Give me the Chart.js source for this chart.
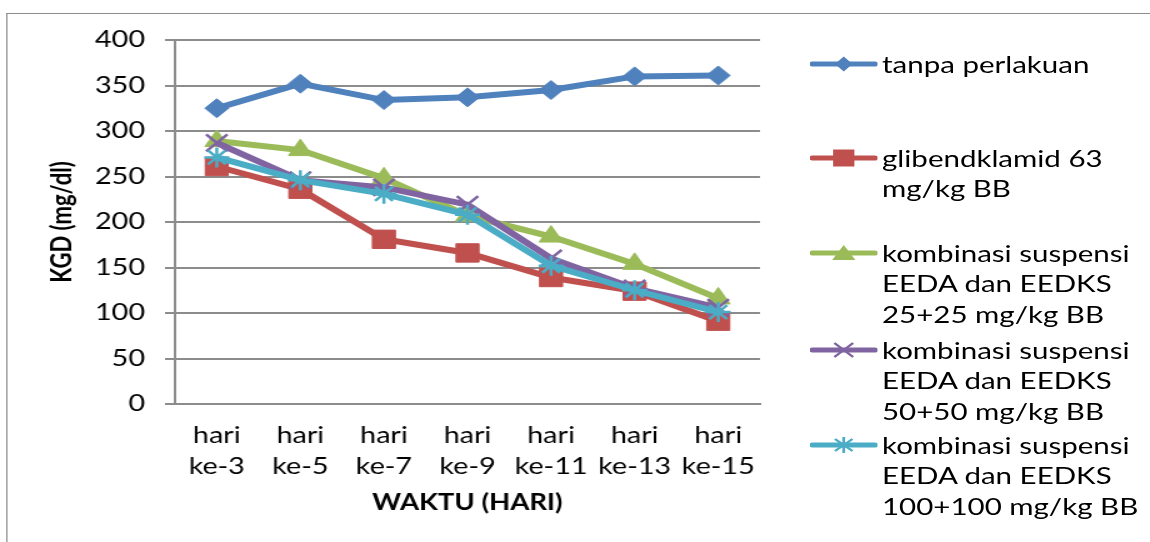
<!DOCTYPE html>
<html><head><meta charset="utf-8">
<script src="https://cdn.jsdelivr.net/npm/chart.js@4.4.1/dist/chart.umd.min.js"></script>
<style>
html,body{margin:0;padding:0;background:#fff;overflow:hidden;width:1150px;height:542px}
#wrap{position:absolute;left:0;top:0;width:920px;height:542px;transform:scaleX(1.25);transform-origin:0 0}
#frame{position:absolute;left:4.6px;top:13px;width:2000px;height:2000px;border-left:1.2px solid #8c8c8c;border-top:1.5px solid #8c8c8c}
#c{position:absolute;left:0;top:0}
.lg-mark{position:absolute;left:648px;width:54px;height:24px}
.lg-text{position:absolute;left:705.6px;font-family:Lato,sans-serif;font-size:23.6px;line-height:30.5px;color:#000;white-space:nowrap}
</style></head>
<body>
<div id="wrap">
  <div id="frame"></div>
  <canvas id="c" width="920" height="542"></canvas>
  <div id="legend"></div>
</div>
<script>
// ---- data ----
const categoryLabels = [["hari","ke-3"],["hari","ke-5"],["hari","ke-7"],["hari","ke-9"],["hari","ke-11"],["hari","ke-13"],["hari","ke-15"]];
const tanpaPerlakuan = [325, 352, 334, 337, 345, 360, 361];
const glibendklamid  = [261, 236, 181, 166, 139, 124, 91];
const kombinasi25    = [289, 279, 248, 207, 184, 154, 116];
const kombinasi50    = [287, 246, 238, 219, 160, 127, 106];
const kombinasi100   = [271, 246, 231, 208, 152, 125, 101];
const yTicks = [0, 50, 100, 150, 200, 250, 300, 350, 400];
const legendLines = [
  ["tanpa perlakuan"],
  ["glibendklamid 63","mg/kg BB"],
  ["kombinasi suspensi","EEDA dan EEDKS","25+25 mg/kg BB"],
  ["kombinasi suspensi","EEDA dan EEDKS","50+50 mg/kg BB"],
  ["kombinasi suspensi","EEDA dan EEDKS","100+100 mg/kg BB"]
];
const xTitle = "WAKTU (HARI)";
const yTitle = "KGD (mg/dl)";

// ---- styles ----
const colors = ['#4F81BD','#C0504D','#9BBB59','#8064A2','#4BACC6'];
const pointStyles = ['rectRot','rect','triangle','crossRot','star'];
const pointRadii = [9.5, 13, 11, 12, 10];
const pointBW = [1, 1, 1, 2.5, 2.5];
const seriesValues = [tanpaPerlakuan, glibendklamid, kombinasi25, kombinasi50, kombinasi100];
const GRID = '#8c8c8c';

const datasets = seriesValues.map((vals, i) => ({
  label: legendLines[i].join(' '),
  data: vals,
  borderColor: colors[i],
  backgroundColor: colors[i],
  borderWidth: 6,
  pointStyle: pointStyles[i],
  pointRadius: pointRadii[i],
  pointHoverRadius: pointRadii[i],
  pointBackgroundColor: colors[i],
  pointBorderColor: colors[i],
  pointBorderWidth: pointBW[i],
  tension: 0,
  order: seriesValues.length - i
}));

new Chart(document.getElementById('c').getContext('2d'), {
  type: 'line',
  data: { labels: categoryLabels, datasets },
  options: {
    responsive: false,
    animation: false,
    devicePixelRatio: 1,
    layout: { padding: { left: 0, top: 40, right: 312, bottom: 0 } },
    plugins: { legend: { display: false }, tooltip: { enabled: false } },
    scales: {
      x: {
        offset: true,
        grid: { display: false, drawTicks: false, tickLength: 0 },
        border: { display: true, color: GRID, width: 2 },
        ticks: { color: '#000', font: { family: 'Lato', size: 23, lineHeight: 1.348 }, padding: 16.5, maxRotation: 0, autoSkip: false },
        title: { display: true, text: xTitle, color: '#000', font: { family: 'Lato', size: 22, weight: 'bold', lineHeight: 1.2 }, padding: { top: 0, bottom: 25.8 } },
        afterFit: s => { s.height = 138; }
      },
      y: {
        min: yTicks[0], max: yTicks[yTicks.length - 1],
        afterBuildTicks: s => { s.ticks = yTicks.map(v => ({ value: v })); },
        ticks: { color: '#000', font: { family: 'Lato', size: 23 }, padding: 16 },
        grid: { color: GRID, lineWidth: 2, drawTicks: true, tickLength: 8, tickColor: GRID, tickWidth: 2 },
        border: { display: true, color: GRID, width: 2 },
        title: { display: true, text: yTitle, color: '#000', font: { family: 'Lato', size: 22, weight: 'bold', lineHeight: 1.2 }, padding: { top: 36.4, bottom: 0 } },
        afterFit: s => { s.width = 140; }
      }
    }
  }
});

// ---- legend (HTML) ----
const legendCenters = [64, 158, 253, 350, 445];
function markerSVG(i) {
  const c = colors[i];
  let m = '';
  if (i === 0) m = `<polygon points="27,4.5 34,12 27,19.5 20,12" fill="${c}"/>`;
  if (i === 1) m = `<rect x="18.5" y="3.5" width="17" height="17" fill="${c}"/>`;
  if (i === 2) m = `<polygon points="27,4 36.3,19 17.7,19" fill="${c}"/>`;
  if (i === 3) m = `<path d="M19.5,5 L34.5,19 M34.5,5 L19.5,19" stroke="${c}" stroke-width="2.2" fill="none"/>`;
  if (i === 4) m = `<path d="M27,4 L27,20 M20,6 L34,18 M34,6 L20,18" stroke="${c}" stroke-width="2.2" fill="none"/>`;
  return `<svg width="54" height="24" viewBox="0 0 54 24"><line x1="2" y1="12" x2="52" y2="12" stroke="${c}" stroke-width="5" stroke-linecap="round"/>${m}</svg>`;
}
const lg = document.getElementById('legend');
legendLines.forEach((lines, i) => {
  const cy = legendCenters[i];
  const mk = document.createElement('div');
  mk.className = 'lg-mark';
  mk.style.top = (cy - 12) + 'px';
  mk.innerHTML = markerSVG(i);
  lg.appendChild(mk);
  const tx = document.createElement('div');
  tx.className = 'lg-text';
  tx.style.top = (cy - 15.25) + 'px';
  tx.innerHTML = lines.join('<br>');
  lg.appendChild(tx);
});
</script>
</body></html>
